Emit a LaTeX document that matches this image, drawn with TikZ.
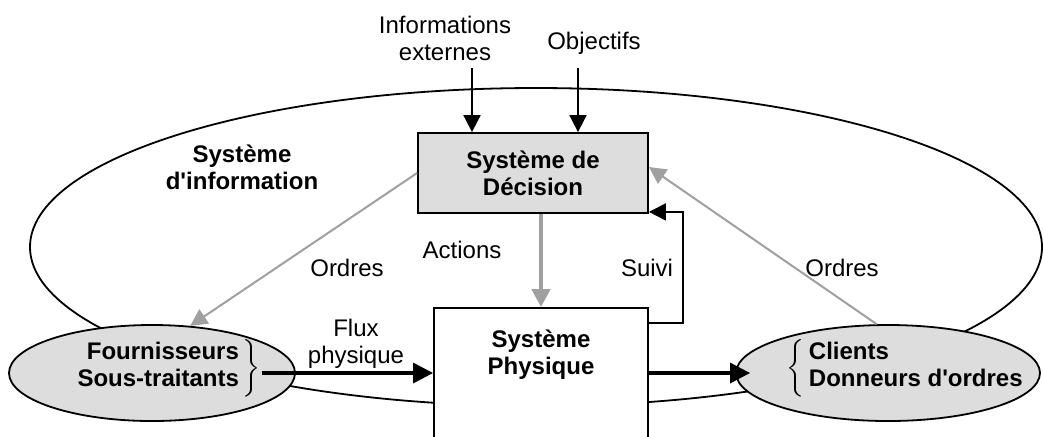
\documentclass[tikz,border=0pt]{standalone}
\usepackage{fontspec}
\setmainfont{Liberation Sans}
\usepackage{amsmath}
\usetikzlibrary{arrows.meta,shapes.geometric,positioning,calc}

\definecolor{boxgray}{RGB}{221,221,221}
\definecolor{linkgray}{RGB}{160,160,160}

\tikzset{
  txt/.style={font=\fontsize{12}{13.5}\selectfont},
  nom/.style={font=\fontsize{12}{13.5}\selectfont\bfseries},
  lbl/.style={txt,align=center,inner sep=0pt},
  sysbox/.style={draw,rectangle,inner sep=0pt},
  entity/.style={draw,ellipse,fill=boxgray,inner sep=0pt},
  ordre/.style={->,draw=linkgray,line width=1pt},
  fluxarrow/.style={->,line width=1.6pt,>={Triangle[length=10pt,width=10pt]}}
}

\begin{document}
\begin{tikzpicture}[x=0.5pt,y=-0.5pt,>={Triangle[length=8.5pt,width=8.5pt]},
                    line width=0.9pt]
  \clip (0,0) rectangle (1043,436);

  % ellipses and boxes
  \node[draw,ellipse,minimum width=506pt,minimum height=159pt] (info) at (536,247) {};
  \node[entity,minimum width=143pt,minimum height=48pt] (fourn) at (152,373) {};
  \node[entity,minimum width=152pt,minimum height=48pt] (clients) at (888,373) {};
  \node[sysbox,fill=boxgray,minimum width=115pt,minimum height=40pt,nom,align=center]
       (decision) at (533,173) {Système de\\Décision};
  \node[sysbox,fill=white,minimum width=107pt,minimum height=65pt] (physique) at (541,373) {};
  \node[lbl,nom,below=11pt of physique.north] (phystxt) {Système\\Physique};

  % texts
  \node[lbl,nom] (fourntxt) at (168,368)
       {$\left.\begin{tabular}{@{}r@{\,}}Fournisseurs\\Sous-traitants\end{tabular}\right\}$};
  \node[lbl,nom] (clitxt) at (906,368)
       {$\left\{\begin{tabular}{@{\,}l@{}}Clients\\Donneurs d\textquotesingle ordres\end{tabular}\right.$};
  \node[lbl,nom] (infotxt) at (242,167) {Système\\d\textquotesingle information};
  \node[lbl] (infoext) at (445,38) {Informations\\externes};
  \node[lbl] (objectifs) at (594,43) {Objectifs};
  \node[lbl] (actions) at (462,250) {Actions};
  \node[lbl] (suivi) at (647,268) {Suivi};
  \node[lbl] (ordresg) at (347,268) {Ordres};
  \node[lbl] (ordresd) at (842,268) {Ordres};
  \node[lbl] (fluxtxt) at (356,344) {Flux\\physique};

  \coordinate (ie) at (472,68);
  \coordinate (ob) at (578,68);

  % connectors
  \draw[->] (ie) -- (ie |- decision.north);
  \draw[->] (ob) -- (ob |- decision.north);
  \draw[->,draw=linkgray,line width=2.2pt,>={Triangle[length=9pt,width=9pt]}]
       (decision.south -| physique.north) -- (physique.north);
  \draw[->] ($(physique.north east)+(0,16)$) -- ++(34,0) |- ($(decision.south east)+(0,-2)$);
  \draw[ordre] (decision.west) -- (fourn.51);
  \draw[ordre] (clients.103) -- ($(decision.east)+(0,-6)$);
  \draw[fluxarrow] (fourntxt.east |- physique.west) -- (physique.west);
  \draw[fluxarrow] (physique.east) -- ($(clients.west)+(15,0)$);
\end{tikzpicture}
\end{document}
